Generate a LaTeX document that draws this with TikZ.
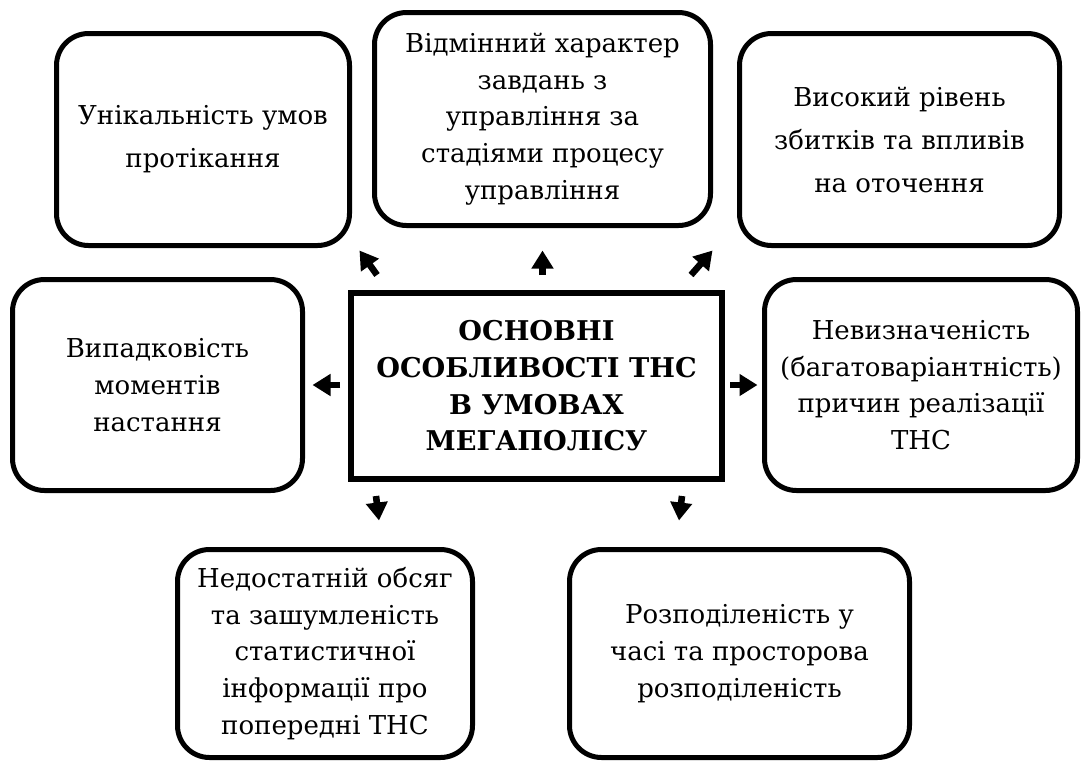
\documentclass[tikz,border=0pt]{standalone}
\usepackage{fontspec}
\setmainfont{DejaVu Serif}
\usetikzlibrary{arrows.meta,calc}
\begin{document}
\begin{tikzpicture}[x=0.5pt,y=-0.5pt,
  box/.style={draw,line width=2.5pt,rounded corners=16pt,align=center,inner sep=0pt,
    font=\fontsize{13}{18.35}\selectfont},
  wide/.style={font=\fontsize{13}{21.5}\selectfont},
  mainbox/.style={draw,line width=3pt,align=center,inner sep=0pt,
    font=\fontsize{13.6}{18.35}\selectfont\bfseries},
  arr/.style={line width=3.3pt,-{Triangle[length=9pt,width=10.5pt]}}]
\useasboundingbox (0,0) rectangle (1084,762);

\node[box,wide,minimum width=146.5pt,minimum height=106pt] (tl) at (203,139.5)
  {Унікальність умов\\протікання};
\node[box,minimum width=168pt,minimum height=106.5pt] (tm) at (542.5,119)
  {Відмінний характер\\завдань з\\управління за\\стадіями процесу\\управління};
\node[box,wide,minimum width=160pt,minimum height=106pt] (tr) at (899.5,139.5)
  {Високий рівень\\збитків та впливів\\на оточення};
\node[box,minimum width=145pt,minimum height=105.5pt] (ml) at (157.5,385)
  {Випадковість\\моментів\\настання};
\node[mainbox,minimum width=185.5pt,minimum height=93pt] (c) at (536.5,386)
  {ОСНОВНІ\\ОСОБЛИВОСТІ ТНС\\В УМОВАХ\\МЕГАПОЛІСУ};
\node[box,minimum width=156.5pt,minimum height=105.5pt] (mr) at (921,385)
  {Невизначеність\\(багатоваріантність)\\причин реалізації\\ТНС};
\node[box,minimum width=147.5pt,minimum height=104pt] (bl) at (325,653.5)
  {Недостатній обсяг\\та зашумленість\\статистичної\\інформації про\\попередні ТНС};
\node[box,minimum width=170pt,minimum height=104pt] (br) at (739.5,653.5)
  {Розподіленість у\\часі та просторова\\розподіленість};

\draw[arr,shorten <=4pt,shorten >=3.75pt] (ml.east -| c.west) -- (ml.east);
\draw[arr,shorten <=2.5pt,shorten >=2.25pt] (mr.west -| c.east) -- (mr.west);
\draw[arr,shorten <=7.5pt,shorten >=11.25pt] (tm.south |- c.north) -- (tm.south);
\draw[arr] ($(c.north west)+(29,-15)$) -- ($(tl.south east)+(7.5,2.5)$);
\draw[arr] ($(c.north east)+(-34,-15)$) -- ($(tr.south west)+(-24.5,2.5)$);
\draw[arr] ($(c.south west)+(28,14)$) -- ($(bl.north)+(54,-26.5)$);
\draw[arr] ($(c.south east)+(-43,14)$) -- ($(br.north)+(-60.5,-26.5)$);
\end{tikzpicture}
\end{document}
